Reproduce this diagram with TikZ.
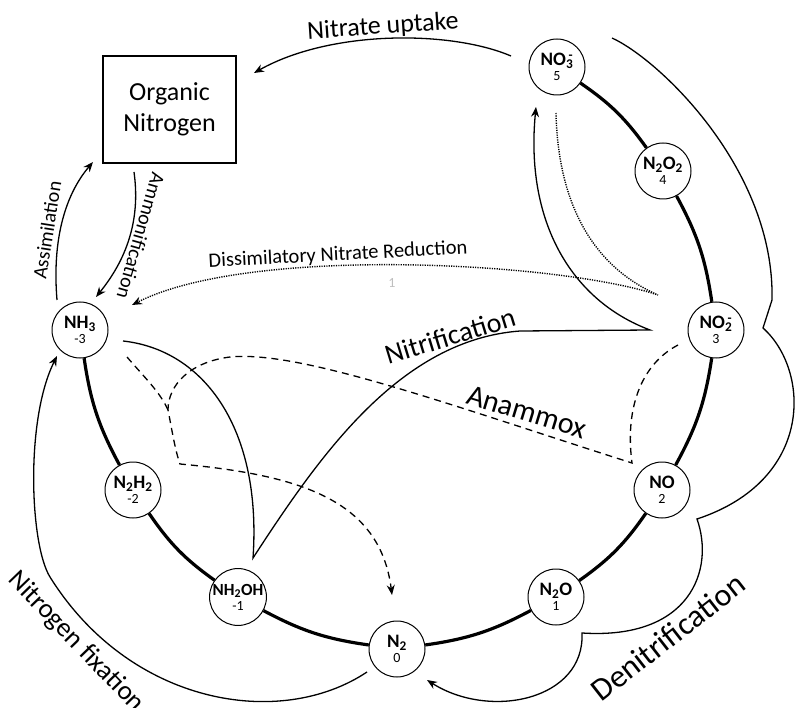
\documentclass[tikz,border=0pt]{standalone}
\usepackage{fontspec}
\setmainfont{Carlito}
\usetikzlibrary{arrows.meta}
\tikzset{
  species/.style={circle,draw,line width=1pt,fill=white,minimum size=56pt,inner sep=0pt,align=center,font=\fontsize{19}{18}\selectfont\bfseries},
  chain/.style={line width=3.2pt},
  flow/.style={line width=1.3pt},
  arr/.style={-{Stealth[length=10pt,width=8pt]}},
  dots/.style={line width=1.4pt,dash pattern=on 1.2pt off 1.2pt},
  dashline/.style={line width=1.3pt,dash pattern=on 7pt off 5pt},
}
\newcommand{\ox}[1]{\\[-3pt]{\fontsize{14}{14}\selectfont\mdseries #1}}
\begin{document}
\begin{tikzpicture}[x=1pt,y=-1pt]
\useasboundingbox (0,0) rectangle (795,708);
% redox wheel
\node[species] (no3) at (557,67) {NO\textsubscript{3}\llap{\textsuperscript{-}}\ox{5}};
\node[species] (n2o2) at (663,171) {N\textsubscript{2}O\textsubscript{2}\ox{4}};
\node[species] (no2) at (716,330) {NO\textsubscript{2}\llap{\textsuperscript{-}}\ox{3}};
\node[species] (no) at (662,490) {NO\ox{2}};
\node[species] (n2o) at (556,597) {N\textsubscript{2}O\ox{1}};
\node[species] (n2) at (397,649) {N\textsubscript{2}\ox{0}};
\node[species] (nh2oh) at (238,597) {\fontsize{17}{18}\selectfont NH\textsubscript{2}OH\ox{-1}};
\node[species] (n2h2) at (133,490) {N\textsubscript{2}H\textsubscript{2}\ox{-2}};
\node[species] (nh3) at (80,330) {NH\textsubscript{3}\ox{-3}};
\foreach \a/\b in {no3/n2o2,n2o2/no2,no2/no,no/n2o,n2o/n2,n2/nh2oh,nh2oh/n2h2,n2h2/nh3}
  \draw[chain] (\a) to[bend left=10] (\b);
\node[draw,line width=1.1pt,minimum width=133pt,minimum height=107pt,align=center,
  font=\fontsize{26}{31}\selectfont] (orgN) at (169.5,109.5) {Organic\\Nitrogen};
% free ends of the process arrows
\coordinate (upS) at (511,56); \coordinate (upE) at (254,73);
\coordinate (asS) at (57,300); \coordinate (asE) at (93,162);
\coordinate (amS) at (134,172); \coordinate (amE) at (96,297);
\coordinate (dnS) at (556,113); \coordinate (dnC) at (658,295); \coordinate (dnE) at (132,305);
\coordinate (niS) at (123,341); \coordinate (niA) at (253,558); \coordinate (niB) at (650,330); \coordinate (niE) at (536,107);
\coordinate (anS) at (127,357); \coordinate (anM) at (168,410); \coordinate (anK) at (180,464); \coordinate (anE) at (392,595);
\coordinate (anR) at (678,345); \coordinate (anC) at (632,463);
\coordinate (deS) at (612,38); \coordinate (deA) at (763,328); \coordinate (deB) at (697,519); \coordinate (deC) at (582,633); \coordinate (deE) at (427,680);
\coordinate (fxS) at (367,672); \coordinate (fxE) at (57,356);
% nitrate uptake, assimilation, ammonification
\draw[flow,arr] (upS) .. controls (450,30) and (330,30) .. (upE);
\node[font=\fontsize{26}{26}\selectfont,rotate=4] (upL) at (383,27) {Nitrate uptake};
\draw[flow,arr] (asS) .. controls (52,240) and (65,195) .. (asE);
\node[font=\fontsize{20}{20}\selectfont,rotate=81] (asL) at (47,230) {Assimilation};
\draw[flow,arr] (amS) .. controls (140,215) and (130,255) .. (amE);
\node[font=\fontsize{20}{20}\selectfont,rotate=-106] (amL) at (141,236) {Ammonification};
% dissimilatory nitrate reduction
\draw[dots,arr] (dnS) .. controls (558,200) and (590,265) .. (dnC)
  .. controls (560,262) and (250,245) .. (dnE);
\node[font=\fontsize{20.5}{20}\selectfont,rotate=3] (dnL) at (338,255) {Dissimilatory Nitrate Reduction};
\node[font=\fontsize{14}{14}\selectfont,text=black!25] (dnN) at (392,283) {1};
% nitrification
\draw[flow,arr] (niS) .. controls (205,350) and (262,430) .. (niA)
  .. controls (320,455) and (400,340) .. (520,331) -- (niB)
  .. controls (570,300) and (525,220) .. (niE);
\node[font=\fontsize{28}{28}\selectfont,rotate=17] (niL) at (450,336) {Nitrification};
% anammox
\draw[dashline] (anS) .. controls (145,378) and (160,392) .. (anM);
\draw[dashline,arr] (anR) .. controls (640,365) and (625,410) .. (anC)
  .. controls (450,405) and (300,350) .. (230,357)
  .. controls (190,362) and (168,385) .. (anM)
  .. controls (172,430) and (175,450) .. (anK)
  .. controls (300,475) and (380,500) .. (anE);
\node[font=\fontsize{30}{30}\selectfont,rotate=-17] (anL) at (527,412) {Anammox};
% denitrification
\draw[flow,arr] (deS) .. controls (660,60) and (775,170) .. (772,300) -- (deA)
  .. controls (810,370) and (815,480) .. (deB)
  .. controls (715,570) and (690,640) .. (deC)
  .. controls (585,700) and (490,720) .. (deE);
\node[font=\fontsize{32}{32}\selectfont,rotate=38] (deL) at (668,637) {Denitrification};
% nitrogen fixation
\draw[flow,arr] (fxS) .. controls (280,730) and (130,705) .. (50,577)
  .. controls (30,545) and (25,420) .. (fxE);
\node[font=\fontsize{27}{27}\selectfont,rotate=-46] (fxL) at (76,642) {Nitrogen fixation};
\end{tikzpicture}
\end{document}
